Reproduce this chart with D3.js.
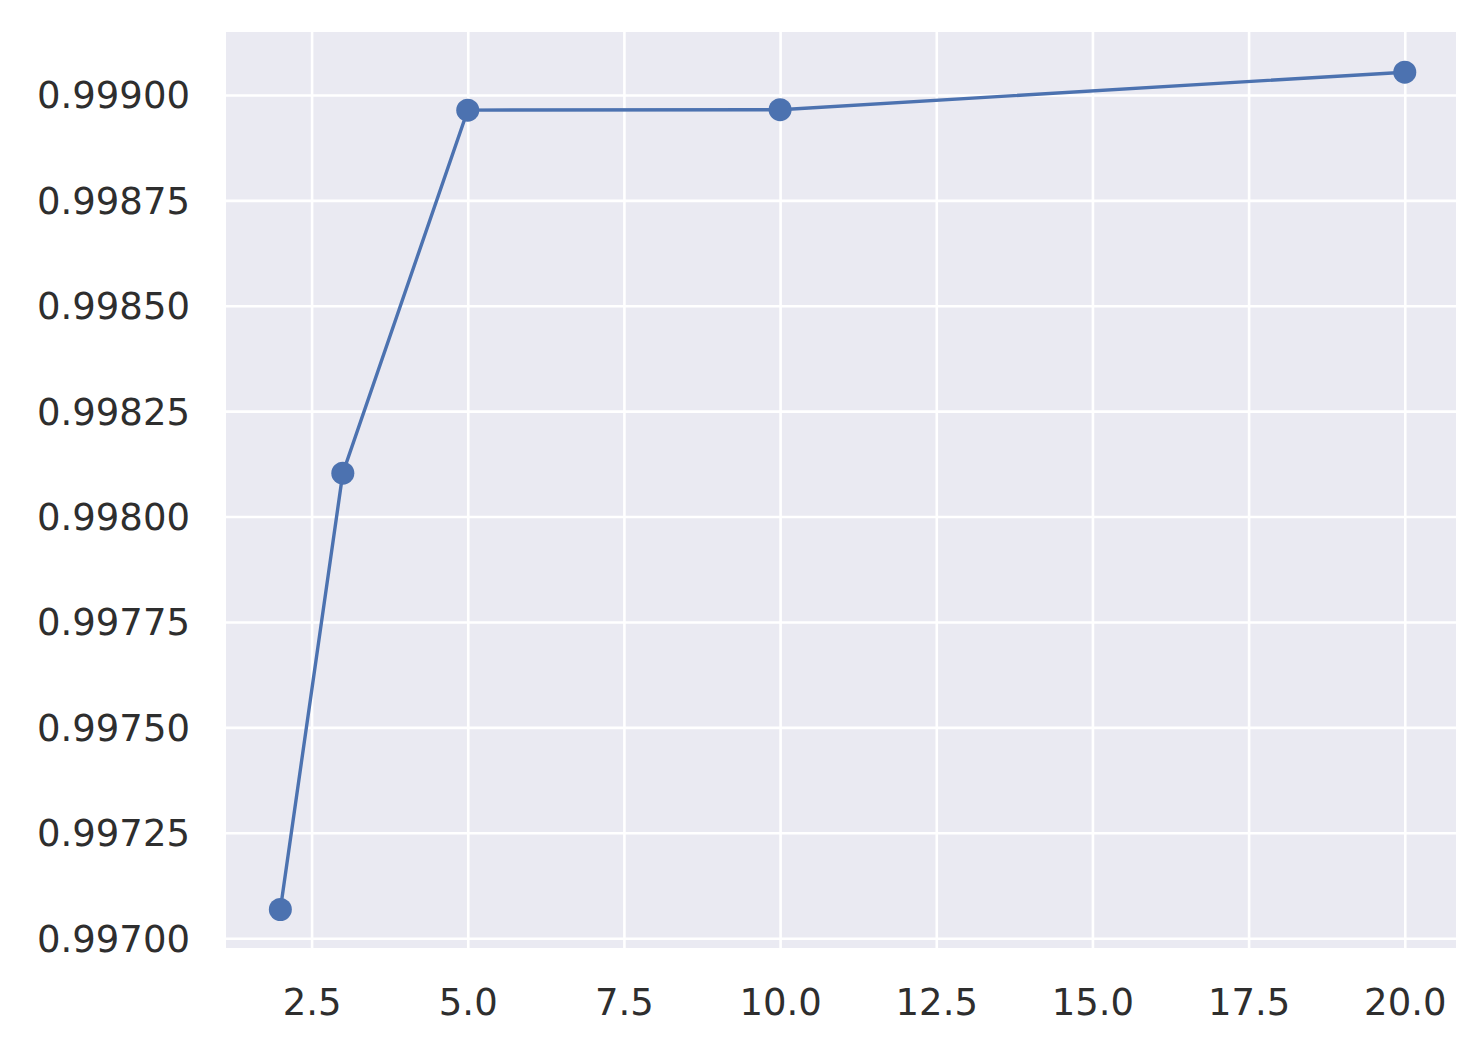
<!DOCTYPE html>
<html>
<head>
<meta charset="utf-8">
<script src="https://cdn.jsdelivr.net/npm/d3@7"></script>
<style>
  body { margin: 0; background: #fff; }
  text { font-family: "DejaVu Sans", sans-serif; }
</style>
</head>
<body>
<div id="chart"></div>
<script>
// data
var xValues = [2, 3, 5, 10, 20];
var yValues = [0.997068, 0.998103, 0.998964, 0.998965, 0.999054];
var xTicks = [2.5, 5.0, 7.5, 10.0, 12.5, 15.0, 17.5, 20.0];
var yTicks = [0.99700, 0.99725, 0.99750, 0.99775, 0.99800, 0.99825, 0.99850, 0.99875, 0.99900];

var margin = {top: 32, right: 20, bottom: 100, left: 226},
    width = 1456 - margin.left,
    height = 948 - margin.top;

var svg = d3.select("#chart")
  .append("svg")
    .attr("width", 1476)
    .attr("height", 1048)
  .append("g")
    .attr("transform", "translate(" + margin.left + "," + margin.top + ")");

// matplotlib style 5% margins
var xPad = (d3.max(xValues) - d3.min(xValues)) * 0.05;
var x = d3.scaleLinear()
  .domain([d3.min(xValues) - xPad + 0.03, d3.max(xValues) + xPad - 0.08])
  .range([0, width]);

var yPad = (d3.max(yValues) - d3.min(yValues)) * 0.05;
var y = d3.scaleLinear()
  .domain([d3.min(yValues) - yPad + 0.000008, d3.max(yValues) + yPad - 0.000004])
  .range([height, 0]);

svg.append("rect")
  .attr("width", width)
  .attr("height", height)
  .attr("fill", "#eaeaf2");

// grid
var xAxis = svg.append("g")
  .attr("transform", "translate(0," + height + ")")
  .call(d3.axisBottom(x).tickValues(xTicks).tickSize(-height).tickFormat(d3.format(".1f")));
var yAxis = svg.append("g")
  .call(d3.axisLeft(y).tickValues(yTicks).tickSize(-width).tickFormat(d3.format(".5f")));

[xAxis, yAxis].forEach(function(a){
  a.select(".domain").remove();
  a.selectAll(".tick line").attr("stroke", "#ffffff").attr("stroke-width", 2.6);
  a.selectAll(".tick text")
    .attr("fill", "#2e2e2e")
    .style("font-size", "37px")
    .style("font-family", "'DejaVu Sans', sans-serif");
});
xAxis.selectAll(".tick text").attr("dy", "0").attr("y", 67);
yAxis.selectAll(".tick text").attr("x", -36).attr("dy", "0.35em");

var pts = xValues.map(function(d, i){ return [d, yValues[i]]; });

svg.append("path")
  .datum(pts)
  .attr("fill", "none")
  .attr("stroke", "#4c72b0")
  .attr("stroke-width", 3.4)
  .attr("d", d3.line().x(d => x(d[0])).y(d => y(d[1])));

svg.append("g")
  .selectAll("circle")
  .data(pts)
  .enter()
  .append("circle")
    .attr("cx", d => x(d[0]))
    .attr("cy", d => y(d[1]))
    .attr("r", 11.5)
    .attr("fill", "#4c72b0");
</script>
</body>
</html>
